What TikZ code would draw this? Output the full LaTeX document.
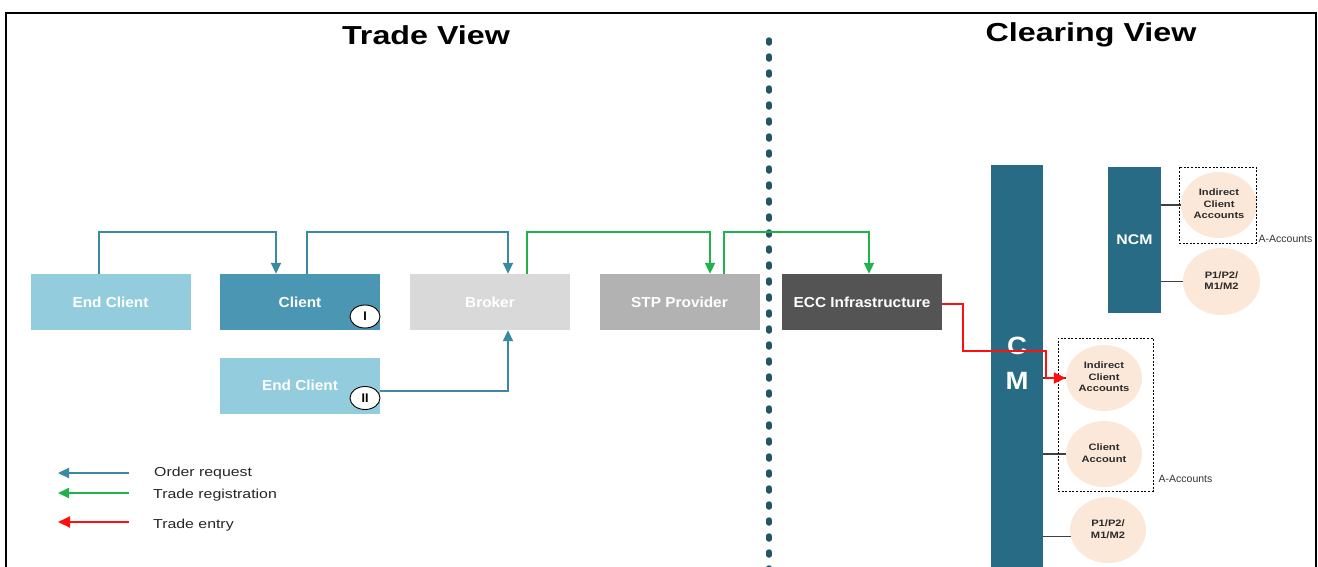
\documentclass[tikz,border=0pt]{standalone}
\usepackage{fontspec}
\setmainfont{Liberation Sans}
\usetikzlibrary{shapes.geometric,arrows.meta,calc}
\definecolor{lightbl}{HTML}{93CDDD}
\definecolor{clientc}{HTML}{4A96B3}
\definecolor{brokerc}{HTML}{D9D9D9}
\definecolor{stpc}{HTML}{B2B2B2}
\definecolor{eccc}{HTML}{545454}
\definecolor{barc}{HTML}{286B84}
\definecolor{divc}{HTML}{1F5668}
\definecolor{orderc}{HTML}{3B8AA3}
\definecolor{regc}{HTML}{21B24B}
\definecolor{entryc}{HTML}{FF1010}
\definecolor{peach}{HTML}{FCE8D8}
\definecolor{acctext}{HTML}{2B2B2B}
\definecolor{linkc}{HTML}{404040}
\newcommand{\hsc}[2]{\scalebox{#1}[1]{#2}}
\newcommand{\acc}[1]{\scalebox{1.2}[1]{\begin{tabular}{@{}c@{}}#1\end{tabular}}}
\begin{document}
\begin{tikzpicture}[x=1pt,y=-1pt,
  box/.style={rectangle, minimum width=160pt, minimum height=56pt, inner sep=0pt, text=white, font=\fontsize{14.5}{16}\selectfont\bfseries},
  order/.style={draw=orderc, line width=2pt, -{Triangle[length=11pt,width=10pt]}},
  reg/.style={draw=regc, line width=2pt, -{Triangle[length=11pt,width=10pt]}},
  entry/.style={draw=entryc, line width=2pt, -{Triangle[length=12pt,width=11pt]}},
  acct/.style={ellipse, fill=peach, minimum width=76pt, minimum height=66pt, inner sep=0pt, text=acctext, font=\fontsize{9.3}{11.5}\selectfont\bfseries},
  badge/.style={ellipse, draw=black, line width=0.9pt, fill=white, minimum width=30pt, minimum height=23pt, inner sep=0pt, font=\fontsize{12.5}{13}\selectfont\bfseries},
  bar/.style={rectangle, fill=barc, inner sep=0pt, text=white},
  grp/.style={draw=black, line width=0.9pt, dash pattern=on 2pt off 1.6pt, rectangle, inner sep=0pt},
  link/.style={draw=linkc, line width=1.2pt},
  title/.style={font=\fontsize{26}{30}\selectfont\bfseries, text=black},
  legtext/.style={anchor=west, inner sep=0pt, text=black!85, font=\fontsize{13}{15}\selectfont},
  small/.style={inner sep=0pt, text=black!80, font=\fontsize{10.5}{12}\selectfont},
  divider/.style={draw=divc, line width=5.5pt, line cap=round, dash pattern=on 3pt off 13pt}
]
\useasboundingbox (0,0) rectangle (1318,566);
% frame
\coordinate (f1) at (6,570);
\coordinate (f2) at (6,13);
\coordinate (f3) at (1316,13);
\coordinate (f4) at (1316,570);
\draw[line width=2pt] (f1) -- (f2) -- (f3) -- (f4);
% titles
\node[title] (t1) at (426,35) {\hsc{1.24}{Trade View}};
\node[title] (t2) at (1091,35) {\hsc{1.24}{Clearing View}};
% divider
\coordinate (dtop) at (769,40);
\coordinate (dbot) at (769,575);
\draw[divider] (dtop) -- (dbot);
% boxes
\node[box, fill=lightbl] (ec1) at (110.5,302) {\hsc{1.06}{End Client}};
\node[box, fill=clientc] (client) at (300,302) {\hsc{1.06}{Client}};
\node[box, fill=brokerc] (broker) at (490,302) {\hsc{1.06}{Broker}};
\node[box, fill=stpc] (stp) at (679.5,302) {\hsc{1.06}{STP Provider}};
\node[box, fill=eccc] (ecc) at (862,302) {\hsc{1.06}{ECC Infrastructure}};
\node[box, fill=lightbl] (ec2) at (300,385.5) {\hsc{1.06}{End Client}};
% order request connectors
\draw[order] ([xshift=-12pt]ec1.north) -- ++(0,-42) -| ([xshift=-24pt]client.north);
\draw[order] ([xshift=7pt]client.north) -- ++(0,-42) -| ([xshift=18pt]broker.north);
\draw[order] ([yshift=-5pt]ec2.east) -| ([xshift=18pt]broker.south);
% badges
\node[badge] (b1) at (365,316.5) {I};
\node[badge] (b2) at (365,398) {II};
% trade registration
\draw[reg] ([xshift=37pt]broker.north) -- ++(0,-42) -| ([xshift=30.5pt]stp.north);
\draw[reg] ([xshift=44.5pt]stp.north) -- ++(0,-42) -| ([xshift=7pt]ecc.north);
% clearing side
\node[bar, minimum width=52pt, minimum height=404pt] (cm) at (1017,367) {};
\node[inner sep=0pt, align=center, text=white,
      font=\fontsize{25}{35}\selectfont\bfseries] (cmtext) at ([yshift=4pt]cm.center) {\hsc{1.1}{C}\\\hsc{1.1}{M}};
\node[bar, minimum width=53pt, minimum height=146pt,
      font=\fontsize{14}{16}\selectfont\bfseries] (ncm) at (1134.5,240) {\hsc{1.13}{NCM}};
\node[acct] (ica1) at (1219,205) {\acc{Indirect\\Client\\Accounts}};
\node[acct, minimum width=77pt, minimum height=67pt] (p1a) at (1221.5,281.5) {\acc{P1/P2/\\M1/M2}};
\node[acct] (ica2) at (1104,378) {\acc{Indirect\\Client\\Accounts}};
\node[acct] (ca) at (1104,454) {\acc{Client\\Account}};
\node[acct] (p1b) at (1108,530) {\acc{P1/P2/\\M1/M2}};
\draw[link] (ica1.west -| ncm.east) -- (ica1.west);
\draw[link] (p1a.west -| ncm.east) -- (p1a.west);
\draw[link] (ica2.west -| cm.east) -- (ica2.west);
\draw[link] (ca.west -| cm.east) -- (ca.west);
\draw[link] (p1b.190 -| cm.east) -- (p1b.190);
% groups
\node[grp, minimum width=77pt, minimum height=76pt] (g1) at (1217.5,205) {};
\node[grp, minimum width=95pt, minimum height=153pt] (g2) at (1105.5,414.5) {};
\node[small, anchor=base west] (aa1) at ([xshift=2pt,yshift=1pt]g1.south east) {A-Accounts};
\node[small, anchor=base west] (aa2) at ([xshift=5pt,yshift=9pt]g2.south east) {A-Accounts};
% trade entry
\draw[entry] ([yshift=-2pt]ecc.east) -- ++(21,0) -- ++(0,47) -- ++(83,0) |- (ica2.west);
% legend
\coordinate (l1a) at (129,473); \coordinate (l1b) at (58,473);
\coordinate (l2a) at (129,493); \coordinate (l2b) at (58,493);
\coordinate (l3a) at (129,522); \coordinate (l3b) at (58,522);
\draw[order] (l1a) -- (l1b);
\draw[reg] (l2a) -- (l2b);
\draw[entry] (l3a) -- (l3b);
\node[legtext] (lt1) at (154,473) {\hsc{1.22}{Order request}};
\node[legtext] (lt2) at (153,495) {\hsc{1.22}{Trade registration}};
\node[legtext] (lt3) at (153,525) {\hsc{1.22}{Trade entry}};
\end{tikzpicture}
\end{document}
